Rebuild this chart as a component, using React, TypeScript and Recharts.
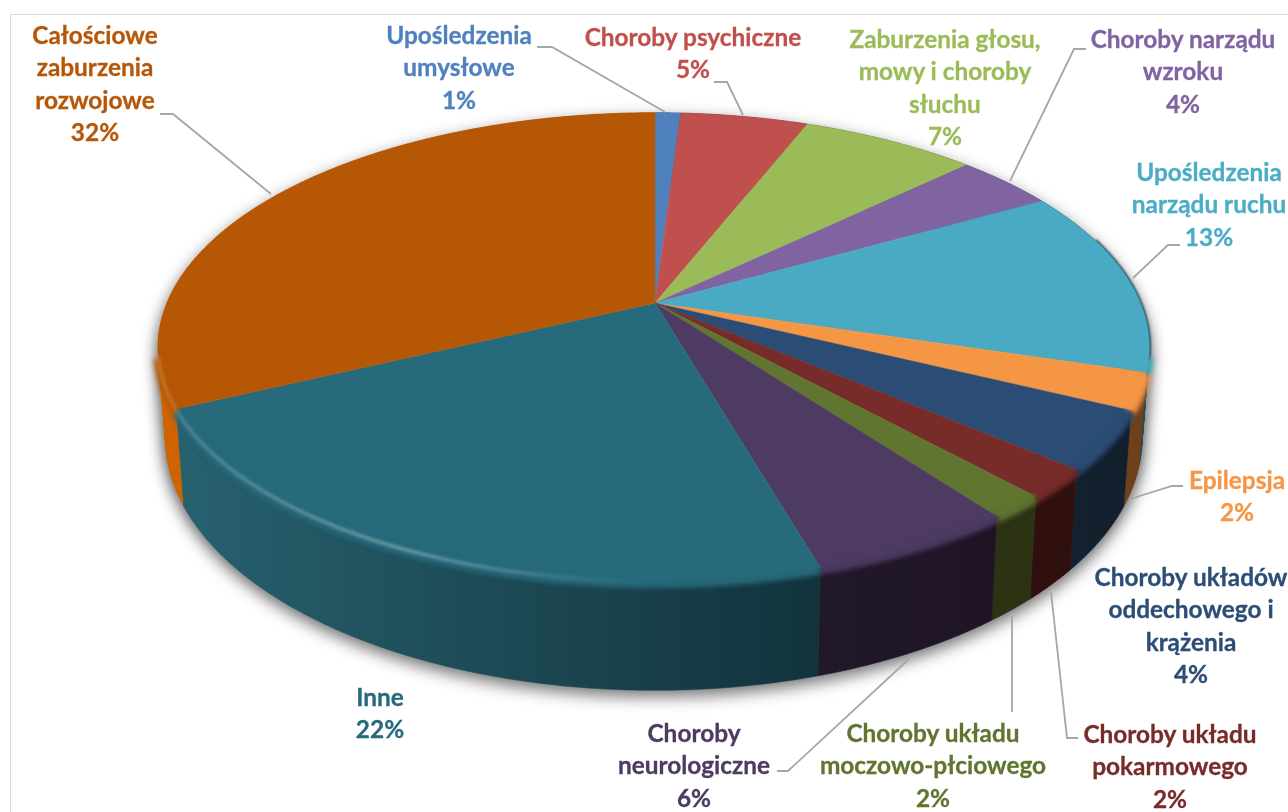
import { PieChart, Pie } from 'recharts'

const CATEGORIES = [
  ['Upośledzenia', 'umysłowe'],
  ['Choroby psychiczne'],
  ['Zaburzenia głosu,', 'mowy i choroby', 'słuchu'],
  ['Choroby narządu', 'wzroku'],
  ['Upośledzenia', 'narządu ruchu'],
  ['Epilepsja'],
  ['Choroby układów', 'oddechowego i', 'krążenia'],
  ['Choroby układu', 'pokarmowego'],
  ['Choroby układu', 'moczowo-płciowego'],
  ['Choroby', 'neurologiczne'],
  ['Inne'],
  ['Całościowe', 'zaburzenia', 'rozwojowe'],
]
const VALUES = [1, 5, 6.9, 3.9, 12.9, 2.49, 4.01, 2, 1.6, 5.7, 22.4, 32.1]

const TOP_COLORS = ['#4f81bd', '#c0504d', '#9bbb59', '#8064a2', '#4aa9c3', '#f59645', '#2a4c75', '#772c2a', '#5f7530', '#4d3b62', '#276a7c', '#b55705']
const LABEL_COLORS = ['#4f81bd', '#c0504d', '#9bbb59', '#8064a2', '#4bacc6', '#f79646', '#2c4d75', '#772c2a', '#5f7530', '#4d3b62', '#276a7c', '#b65708']
const WALL_LEFT = ['#27415f', '#602826', '#4d5d2c', '#403251', '#25566a', '#70431c', '#14212f', '#30100f', '#2b3313', '#211829', '#27616f', '#d06400']
const WALL_RIGHT = ['#27415f', '#602826', '#4d5d2c', '#403251', '#1c4a58', '#6a3e1a', '#121f2d', '#30100f', '#2b3313', '#1e1426', '#12333c', '#a85500']

// centre x, y of the first text line for each label
const LABEL_AT = [
  [459, 34], [693, 36], [945, 38], [1183, 38], [1209, 171], [1237, 479],
  [1191, 576], [1170, 733], [933, 732], [694, 732], [380, 696], [95, 34],
]
const LEADERS = [
  '537,47 552,47 665,112',
  '714,82 727,82 743,115',
  '',
  '1086,49 1074,49 1010,181',
  '1180,245 1168,245 1133,278',
  '1183,486 1172,486 1130,499',
  '',
  '1078,738 1067,738 1051,592',
  '1012,712 1012,616',
  '777,771 788,771 909,659',
  '',
  '160,114 173,114 271,194',
]

const tableData = VALUES.map((value, i) => ({ name: CATEGORIES[i].join(' '), value, index: i }))

// perspective of the tilted disc
const CX = 655
const CY = 303
const RX = 488
const KY = 226
const P = 0.188
const RIGHT_SQUEEZE = 0.995
const BOTTOM_X = 0.985
const BOTTOM_Y = 1.077
const BOTTOM_SHIFT = 87.6

function ringPoint(angle: number, bottom: boolean) {
  const t = ((90 - angle) * Math.PI) / 180
  const u = -Math.cos(t)
  const s = 1 / (1 - P * u)
  let x = RX * Math.sin(t) * s
  if (x > 0) x *= RIGHT_SQUEEZE
  const y = KY * u * s
  if (bottom) return { x: CX + x * BOTTOM_X, y: CY + y * BOTTOM_Y + BOTTOM_SHIFT, u }
  return { x: CX + x, y: CY + y, u }
}

function arc(start: number, end: number, bottom: boolean) {
  const n = Math.max(2, Math.ceil(Math.abs(end - start) * 2))
  const pts = []
  for (let i = 0; i <= n; i++) pts.push(ringPoint(start + ((end - start) * i) / n, bottom))
  return pts
}

const toPath = (pts: { x: number; y: number }[]) =>
  pts.map((p, i) => `${i ? 'L' : 'M'}${p.x.toFixed(2)} ${p.y.toFixed(2)}`).join(' ')

// only the part of the arc on the near side of the disc
function nearArc(start: number, end: number, minU: number) {
  return arc(start, end, false).filter((p) => p.u > minU)
}

// the wall is swept quad by quad so the silhouette between the rings stays filled
function sweptWall(start: number, end: number) {
  const top = arc(start, end, false)
  const bottom = arc(start, end, true)
  const quads = []
  for (let i = 0; i < top.length - 1; i++) {
    const q = [top[i], top[i + 1], bottom[i + 1], bottom[i]]
    let area = 0
    q.forEach((p, k) => {
      const n = q[(k + 1) % 4]
      area += p.x * n.y - n.x * p.y
    })
    if (area < 0) q.reverse()
    quads.push(`${toPath(q)} Z`)
  }
  return quads.join(' ')
}

function TopSlice(props: any) {
  const path = `${toPath(arc(props.startAngle, props.endAngle, false))} L${CX} ${CY} Z`
  const fill = TOP_COLORS[props.payload.index]
  return <path d={path} fill={fill} stroke={fill} strokeWidth={0.5} />
}

function WallSlice(props: any) {
  const i = props.payload.index
  const top = arc(props.startAngle, props.endAngle, false)
  const bottom = arc(props.startAngle, props.endAngle, true)
  const xs = top.concat(bottom).map((p) => p.x)
  const id = `wall-${i}`
  // dark edge only on the right hand side of the disc
  const edge = nearArc(props.startAngle, props.endAngle, -0.3).filter((p) => p.x > CX)
  return (
    <g>
      <defs>
        <linearGradient id={id} gradientUnits="userSpaceOnUse" x1={Math.min(...xs)} x2={Math.max(...xs)} y1={0} y2={0}>
          <stop offset="0" stopColor={WALL_LEFT[i]} />
          <stop offset="1" stopColor={WALL_RIGHT[i]} />
        </linearGradient>
      </defs>
      <path d={sweptWall(props.startAngle, props.endAngle)} fill={`url(#${id})`} stroke={`url(#${id})`} strokeWidth={0.5} />
      {edge.length > 1 && (
        <path d={toPath(edge)} fill="none" stroke={WALL_RIGHT[i]} strokeWidth={3} filter="url(#soft1)" />
      )}
    </g>
  )
}

function ShadowSlice(props: any) {
  return (
    <path
      d={sweptWall(props.startAngle, props.endAngle)}
      fill="#000"
      stroke="#000"
      strokeWidth={0.5}
      fillOpacity={0.5}
      strokeOpacity={0.5}
      transform="translate(0 6)"
    />
  )
}

function RimSlice(props: any) {
  const i = props.payload.index
  const edge = nearArc(props.startAngle, props.endAngle, 0.22)
  if (edge.length < 2) return <g />
  const d = toPath(edge)
  return (
    <g>
      <path d={d} fill="none" stroke={TOP_COLORS[i]} strokeWidth={9} filter="url(#soft3)" transform="translate(0 2)" />
      <path d={d} fill="none" stroke="url(#rimGlow)" strokeWidth={4} filter="url(#soft1)" />
    </g>
  )
}

function SliceLabel(props: any) {
  const i = props.index
  const [x, y] = LABEL_AT[i]
  const lines = [...CATEGORIES[i], `${Math.round(VALUES[i])}%`]
  return (
    <g>
      {LEADERS[i] && <polyline points={LEADERS[i]} fill="none" stroke="#a6a6a6" strokeWidth={1.8} />}
      <text
        textAnchor="middle"
        fontFamily="Lato"
        fontWeight={700}
        fontSize={24.4}
        fill={LABEL_COLORS[i]}
        stroke={LABEL_COLORS[i]}
        strokeWidth={0.3}
      >
        {lines.map((line, k) => (
          <tspan key={k} x={x} y={y + k * 32.6} dominantBaseline="central">
            {line}
          </tspan>
        ))}
      </text>
    </g>
  )
}

export default function App() {
  const pieProps = {
    data: tableData,
    dataKey: 'value',
    cx: CX,
    cy: CY,
    outerRadius: 240,
    startAngle: 90,
    endAngle: -270,
    stroke: 'none',
    isAnimationActive: false,
    labelLine: false,
  }
  return (
    <div style={{ position: 'absolute', left: 0, top: 0, width: 1288, height: 812, overflow: 'hidden', background: '#fff' }}>
      <style>{`.pie-shadow { filter: url(#soft8); }`}</style>
      <svg width={0} height={0} style={{ position: 'absolute' }}>
        <defs>
          <filter id="soft1" filterUnits="userSpaceOnUse" x={0} y={0} width={1288} height={812}>
            <feGaussianBlur stdDeviation={1} />
          </filter>
          <filter id="soft3" filterUnits="userSpaceOnUse" x={0} y={0} width={1288} height={812}>
            <feGaussianBlur stdDeviation={2.6} />
          </filter>
          <filter id="soft8" filterUnits="userSpaceOnUse" x={0} y={0} width={1288} height={812}>
            <feGaussianBlur stdDeviation={8} />
          </filter>
          <linearGradient id="rimGlow" gradientUnits="userSpaceOnUse" x1={170} x2={640} y1={0} y2={0}>
            <stop offset="0" stopColor="#fff" stopOpacity={0.14} />
            <stop offset="0.5" stopColor="#fff" stopOpacity={0.26} />
            <stop offset="1" stopColor="#fff" stopOpacity={0} />
          </linearGradient>
        </defs>
      </svg>
      <div style={{ position: 'absolute', left: 10, top: 14, width: 1400, height: 900, border: '1.5px solid #d9d9d9' }} />
      <div style={{ position: 'absolute', left: 0, top: 0 }}>
        <PieChart width={1288} height={812} margin={{ top: 0, right: 0, bottom: 0, left: 0 }}>
          <Pie {...pieProps} className="pie-shadow" shape={ShadowSlice} label={false} />
          <Pie {...pieProps} shape={WallSlice} label={false} />
          <Pie {...pieProps} shape={TopSlice} label={false} />
          <Pie {...pieProps} shape={RimSlice} label={SliceLabel} />
        </PieChart>
      </div>
    </div>
  )
}
